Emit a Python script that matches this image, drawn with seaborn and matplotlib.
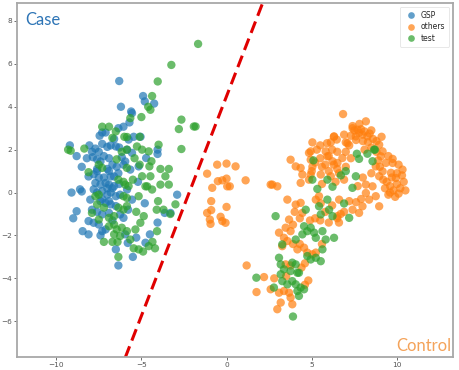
"""
plot.py
Embedding scatter: GSP / others / test, with a dashed case-control boundary.
"""

import pandas as pd
import matplotlib
matplotlib.use("Agg")
import matplotlib.pyplot as plt
import seaborn as sns

# ============================================================================
# 0. DATA
# ============================================================================
gsp_x = [-9.2, -8.8, -8.5, -9.1, -8.6, -8.5, -8.8, -9.0, -8.45, -8.1, -6.5, -6.35,
         -5.5, -5.8, -4.5, -4.05, -2.9, -6.3, -4.9, -4.8, -4.25, -6.2, -5.55, -5.7,
         -7.45, -7.3, -7.1, -6.35, -6.05, -5.45, -5.05, -8.05, -7.7, -7.3, -7.0, -6.8,
         -6.5, -6.3, -4.05, -4.05, -8.2, -7.85, -7.6, -7.4, -7.2, -6.9, -6.15, -5.95,
         -6.7, -6.45, -6.05, -8.1, -7.8, -7.5, -7.2, -6.8, -6.6, -6.35, -7.7, -7.4,
         -7.1, -6.9, -6.6, -7.8, -7.6, -7.3, -7.0, -6.8, -6.5, -6.25, -8.0, -7.4,
         -7.1, -6.8, -6.5, -7.9, -7.3, -6.9, -6.25, -6.05, -8.1, -7.8, -7.5, -7.1,
         -5.95, -4.76, -3.63, -3.29, -5.78, -5.55, -5.84, -5.16, -5.65, -5.75, -5.84,
         -5.55, -4.72, -5.6, -7.6, -7.0, -6.7, -7.3, -7.9, -7.5, -6.9, -7.6,
         -7.0, -6.3, -6.9, -7.6, -6.7, -7.3, -5.3, -4.8, -5.2, -6.6, -7.4]
gsp_y = [2.2, 1.7, 1.2, 0.0, 0.15, 0.05, -0.87, -1.2, -1.8, -1.95, -2.65, -3.4,
         -3.0, -2.35, -1.95, -1.4, -0.1, 5.2, 4.5, 4.25, 4.15, 4.0, 3.7, 3.27,
         2.65, 2.8, 2.8, 3.0, 3.07, 2.6, 2.6, 2.2, 2.05, 2.27, 2.13, 2.2,
         2.15, 2.1, 2.0, 1.8, 1.6, 1.65, 1.55, 1.45, 1.7, 1.6, 1.65, 1.45,
         1.3, 1.2, 1.3, 0.75, 0.85, 0.7, 0.7, 0.75, 0.75, 0.9, 0.45, 0.37,
         0.45, 0.37, 0.3, 0.15, 0.0, 0.07, -0.1, 0.0, -0.17, -0.1, -0.33, -0.4,
         -0.48, -0.55, -0.63, -0.8, -1.02, -0.95, -1.02, -1.18, -1.33, -1.41, -1.49, -1.72,
         -1.95, -2.34, -0.95, -0.95, -0.8, -0.33, 0.14, 1.22, 1.07, 2.47, 2.0,
         1.85, 1.61, 3.78, 1.0, 1.1, 0.2, -0.3, 1.9, 1.9, 1.0, 1.1,
         0.2, 0.4, -0.4, -0.9, -1.3, -1.8, -2.1, -0.5, 0.5, 2.5, -2.0]

others_x = [-1.14, -0.55, 0.0, 0.53, -0.51, -0.25, 0.0, 0.04, 0.19, -0.84, 1.12, 2.59,
            -0.9, 0.0, -1.14, -0.9, -0.98, -0.94, -0.35, -0.25, -0.06, 1.18, 2.2, 1.76,
            2.59, 6.84, 8.18, 7.69, 7.78, 7.59, 7.98, 8.27, 6.31, 6.47, 7.1, 7.2,
            6.12, 4.94, 4.94, 5.82, 5.92, 6.22, 6.51, 6.8, 8.96, 9.16, 9.06, 9.35,
            3.76, 4.06, 4.35, 4.45, 4.94, 5.53, 6.12, 9.16, 9.65, 9.94, 10.33, 9.75,
            9.75, 7.5, 7.9, 8.1, 8.4, 7.6, 8.0, 8.3, 8.6, 7.3, 7.0, 9.4,
            9.6, 9.8, 10.0, 10.2, 10.4, 9.5, 9.9, 10.1, 10.3, 9.7, 10.0, 9.3,
            10.5, 8.76, 8.96, 8.57, 8.76, 8.96, 8.18, 8.37, 7.98, 7.78, 8.18, 6.51,
            6.61, 7.2, 7.6, 5.04, 4.84, 5.04, 5.5, 6.0, 6.3, 6.5, 2.69, 2.98,
            4.35, 4.84, 5.6, 6.4, 6.9, 3.57, 4.06, 4.35, 4.45, 5.24, 5.43, 5.53,
            6.5, 6.7, 6.6, 6.0, 5.5, 3.67, 3.47, 3.76, 3.08, 3.37, 3.57, 3.27,
            3.9, 4.16, 4.55, 4.74, 5.04, 5.24, 5.6, 3.08, 3.37, 3.67, 3.76, 3.86,
            3.18, 2.98, 2.8, 3.47, 3.76, 5.3, 5.9, 6.3, 5.8, 6.5, 5.0, 8.8,
            9.1, 9.5, 10.1, 8.5, 9.2, 7.4, 8.9, 9.6,
            5.2, 5.6, 6.0, 6.6, 7.0, 7.3, 7.0, 6.2, 5.5, 6.9, 7.4, 7.8,
            8.5, 8.8, 8.1, 9.0, 8.5, 8.0, 7.7, 7.9, 7.4, 6.9, 6.2, 5.8,
            5.2, 4.9, 4.3, 4.0, 3.9, 4.3, 4.6, 4.4, 3.5, 4.8, 4.6]
others_y = [0.88, 1.3, 1.35, 1.22, 0.53, 0.57, 0.65, 0.29, 0.29, 0.22, 0.57, 0.37,
            -0.4, -0.67, -0.95, -0.82, -1.26, -1.46, -1.13, -1.33, -1.41, -3.4, -3.94, -4.64,
            -4.51, 3.66, 3.32, 2.93, 2.78, 2.62, 2.7, 2.62, 2.62, 2.47, 2.3, 2.2,
            2.34, 1.92, 1.53, 1.92, 1.69, 1.46, 1.38, 1.61, 2.23, 1.92, 1.69, 1.38,
            1.53, 1.22, 1.15, 0.84, 0.84, 0.84, 0.76, 0.99, 0.92, 0.68, 1.07, 1.38,
            1.57, 2.9, 2.95, 2.85, 2.75, 2.45, 2.4, 2.35, 2.5, 2.65, 2.34, 0.5,
            0.3, 0.1, 0.4, 0.2, 0.5, -0.1, -0.2, -0.05, 0.8, 0.7, 0.9, 0.2,
            0.1, 1.22, 0.76, 0.29, -0.17, -0.64, -0.02, -0.33, -0.64, -0.95, 0.37, -1.1,
            -0.33, -0.4, -0.45, 2.34, 1.85, 1.2, 1.6, 1.7, 1.3, 1.1, 0.37, 0.29,
            0.45, 0.6, 0.4, 0.5, 0.6, -0.33, -0.56, -0.48, -0.95, -0.33, -0.17, -0.5,
            -1.2, -1.0, -1.4, -1.4, -1.3, -1.26, -1.64, -1.8, -1.87, -2.11, -2.26, -2.5,
            -2.4, -2.65, -2.57, -2.8, -2.88, -2.8, -2.4, -4.67, -4.59, -4.67, -4.9, -5.21,
            -5.13, -5.44, -4.0, -3.35, -3.4, 2.0, 2.3, 2.6, 1.3, 1.9, 1.0, 1.9,
            2.6, 1.7, 1.3, 2.1, 0.6, 3.0, 1.5, 0.0,
            1.4, 1.2, 1.0, 0.9, 1.2, 1.6, 1.9, 2.0, 2.2, 2.7, 3.1, 3.2,
            2.9, 2.4, 2.0, 1.2, 0.9, 0.7, 0.3, -0.3, -0.8, -0.9, -0.6, -0.9,
            -1.2, -1.3, -1.2, -0.9, -1.5, -2.4, -3.3, -3.5, -3.9, -4.1, -4.3]

test_x = [-9.3, -9.15, -8.35, -7.3, -6.9, -6.5, -6.7, -6.0, -5.1, -5.84, -6.15, -5.85,
          -6.45, -7.5, -7.3, -5.85, -8.1, -6.35, -6.05, -5.95, -5.75, -7.7, -7.5, -6.05,
          -5.85, -7.6, -7.2, -6.35, -6.05, -5.85, -7.9, -6.9, -6.6, -7.5, -6.9, -6.6,
          -6.45, -6.15, -5.85, -6.6, -6.25, -7.2, -6.7, -6.4, -6.35, -5.45, -4.9, -4.2,
          -4.35, -4.1, -3.7, -3.3, -3.0, -1.67, -3.24, -4.04, -4.37, -4.6, -4.47, -5.0,
          -5.65, -2.65, -2.8, -1.92, -1.82, -3.99, -2.65, -4.41, -4.53, -3.39, -3.88, -3.59,
          -3.88, -3.39, -4.47, -4.66, -4.37, -4.02, -4.08, -4.57, -5.16, -5.65, -5.35, -5.06,
          -4.86, -5.16, -4.76, -4.96, -5.26, -4.96, -4.57, -5.4, -5.1, -5.5, -5.3,
          1.75, 8.71, 7.65, 8.27, 7.78, 8.57, 8.66, 5.04, 5.92, 6.71, 7.59, 7.39,
          6.9, 7.2, 5.33, 6.22, 5.43, 5.92, 6.02, 5.53, 6.22, 2.88, 4.65, 4.55,
          4.74, 4.45, 4.94, 5.14, 5.24, 5.63, 5.82, 6.31, 3.27, 4.06, 4.74, 4.94,
          5.24, 5.53, 5.63, 3.08, 3.18, 3.37, 3.86, 4.06, 3.76, 4.16, 4.25, 3.18,
          3.27, 3.57, 3.86, 4.06, 4.16, 4.35, 4.55, 4.25, 2.78, 3.9, 7.0, 5.1]
test_y = [2.0, 1.95, 2.05, 3.07, 3.07, 2.85, 2.55, 2.6, 2.6, 2.59, 1.9, 2.0,
          1.55, 1.3, 1.15, 1.15, 0.95, 0.6, 0.5, 0.37, 0.3, -0.17, -0.1, -0.17,
          -0.25, -0.55, -0.7, -0.7, -0.8, -0.63, -0.95, -1.18, -1.1, -1.26, -1.57, -1.49,
          -1.72, -1.64, -1.8, -1.95, -2.03, -2.3, -2.3, -2.3, -3.0, -2.6, -2.75, -2.6,
          -2.3, -0.8, -0.8, -1.0, -0.55, 6.93, 5.95, 5.18, 4.5, 4.0, 3.86, 3.52,
          3.47, 3.4, 2.96, 3.08, 3.08, 2.23, 2.03, 1.46, 1.22, 1.1, 1.1, 0.76,
          0.37, 0.37, 0.76, 0.29, 0.14, -0.4, -1.8, -2.5, -2.65, -2.19, -1.72, -1.41,
          -1.1, -0.17, 0.29, 0.76, 2.15, 2.0, 1.92, 1.6, 1.3, 0.6, -0.9,
          -3.97, 2.0, 1.81, 1.81, 1.57, 1.46, 2.0, 0.6, 0.6, 0.8, 0.76, 0.22,
          -0.51, -1.18, 0.17, 0.27, -0.64, -0.33, -0.8, -1.02, -1.1, -1.1, -0.8, -1.57,
          -1.8, -1.95, -1.64, -1.87, -2.11, -1.8, -2.19, -2.11, -2.42, -2.19, -2.96, -3.12,
          -3.04, -3.2, -2.65, -3.04, -3.35, -3.58, -3.27, -3.35, -3.66, -3.74, -3.74, -3.81,
          -4.13, -4.28, -4.13, -4.28, -4.59, -4.43, -4.51, -4.82, -4.43, -5.78, 1.0, 1.5]

groups = ["GSP", "others", "test"]
boundary_x = [-5.95, 2.2]
boundary_y = [-7.7, 9.0]

df = pd.DataFrame({
    "x": gsp_x + others_x + test_x,
    "y": gsp_y + others_y + test_y,
    "group": ["GSP"] * len(gsp_x) + ["others"] * len(others_x) + ["test"] * len(test_x),
})

# ============================================================================
# 1. PLOT
# ============================================================================
sns.set_style("white")
fig = plt.figure(figsize=(4.6, 3.7), dpi=100)
ax = fig.add_axes([0.037, 0.035, 0.948, 0.957])

palette = {"GSP": "#1f77b4", "others": "#ff7f0e", "test": "#2ca02c"}
sns.scatterplot(data=df, x="x", y="y", hue="group", hue_order=groups,
                palette=palette, s=36, alpha=0.7, linewidth=0, ax=ax)

ax.plot(boundary_x, boundary_y, color="#e00000", linestyle="--", linewidth=2.2,
        dashes=(4, 2))

ax.set_xlim(-12.3, 13.3)
ax.set_ylim(-7.67, 8.84)
ax.set_xticks([-10, -5, 0, 5, 10])
ax.set_yticks([-6, -4, -2, 0, 2, 4, 6, 8])
ax.set_xlabel("")
ax.set_ylabel("")
ax.tick_params(labelsize=5.3, colors="#555555", length=2.5, width=0.6, direction="out",
               pad=1, bottom=True, left=True)
for sp in ax.spines.values():
    sp.set_color("#a8a8a8")
    sp.set_linewidth(1.3)

leg = ax.legend(loc="upper right", fontsize=5.5, frameon=True, handletextpad=0.3,
                borderpad=0.5, labelspacing=0.35, markerscale=0.8)
leg.get_frame().set_edgecolor("#dddddd")
leg.get_frame().set_linewidth(0.6)

ax.text(0.02, 0.975, "Case", transform=ax.transAxes, ha="left", va="top",
        fontsize=12, color="#2e75b6", family=["Lato", "DejaVu Sans"])
ax.text(0.995, 0.01, "Control", transform=ax.transAxes, ha="right", va="bottom",
        fontsize=12, color="#f4a35a", family=["Lato", "DejaVu Sans"])

fig.savefig("out.png", dpi=100)
